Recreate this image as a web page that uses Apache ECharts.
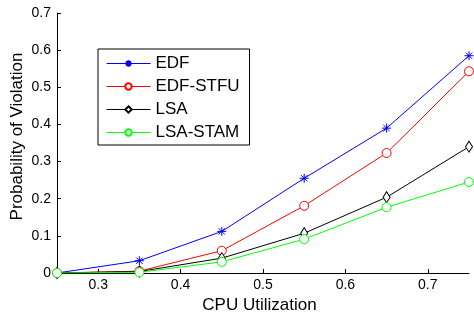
<!DOCTYPE html>
<html><head><meta charset="utf-8">
<script src="https://cdn.jsdelivr.net/npm/echarts@6/dist/echarts.min.js"></script>
<style>html,body{margin:0;padding:0;background:#fff}#c{width:474px;height:320px}</style>
</head><body><div id="c"></div>
<script>
const xValues = [0.25, 0.35, 0.45, 0.55, 0.65, 0.75];
const edf = [0, 0.033, 0.112, 0.255, 0.39, 0.585];
const edfStfu = [0, 0.005, 0.06, 0.181, 0.323, 0.543];
const lsa = [0, 0.004, 0.04, 0.107, 0.204, 0.34];
const lsaStam = [0, 0.002, 0.03, 0.091, 0.177, 0.245];
const xTicks = [0.3, 0.4, 0.5, 0.6, 0.7];
const seriesNames = ['EDF', 'EDF-STFU', 'LSA', 'LSA-STAM'];

const font = 'Liberation Sans, Arial, sans-serif';
const asterisk = 'path://M0,-10L0,10M-10,0L10,0M-7,-7L7,7M-7,7L7,-7';
function mk(name, vals, color, symbol, size) {
  return {
    name: name, type: 'line', data: xValues.map((x, i) => [x, vals[i]]),
    symbol: symbol, symbolSize: size, showAllSymbol: true,
    lineStyle: {color: color, width: 1},
    itemStyle: {color: symbol === asterisk ? color : '#fff', borderColor: color, borderWidth: 1},
    emphasis: {disabled: true}, animation: false
  };
}
const chart = echarts.init(document.getElementById('c'));
chart.setOption({
  animation: false,
  grid: {left: 57, right: 5, top: 13, bottom: 47, containLabel: false, outerBoundsMode: 'none'},
  legend: {
    orient: 'vertical', left: 98, top: 49, borderColor: '#000', borderWidth: 1,
    padding: [6, 10, 4, 8], itemGap: 6, itemWidth: 44, itemHeight: 8,
    textStyle: {fontFamily: font, fontSize: 17, color: '#000'},
    lineStyle: {width: 1},
    data: seriesNames, backgroundColor: '#fff'
  },
  xAxis: {
    type: 'value', min: 0.25, max: 0.75,
    name: 'CPU Utilization', nameLocation: 'middle', nameGap: 24, nameMoveOverlap: false,
    nameTextStyle: {fontFamily: font, fontSize: 17, color: '#000', padding: [0, 7, 0, 0]},
    axisLine: {lineStyle: {color: '#000', width: 1}},
    axisTick: {inside: true, length: 4, customValues: xTicks, lineStyle: {color: '#000'}},
    axisLabel: {customValues: xTicks, fontFamily: font, fontSize: 14, color: '#000', margin: 5},
    splitLine: {show: false}
  },
  yAxis: {
    type: 'value', min: 0, max: 0.7, interval: 0.1,
    name: 'Probability of Violation', nameLocation: 'middle', nameGap: 31, nameMoveOverlap: false,
    nameTextStyle: {fontFamily: font, fontSize: 17, color: '#000', padding: [0, 0, 0, 13]},
    axisLine: {show: true, lineStyle: {color: '#000', width: 1}},
    axisTick: {show: true, inside: true, length: 4, lineStyle: {color: '#000'}},
    axisLabel: {fontFamily: font, fontSize: 14, color: '#000', margin: 6},
    splitLine: {show: false}
  },
  series: [
    mk('EDF', edf, '#0000ff', asterisk, 9),
    mk('EDF-STFU', edfStfu, '#ff0000', 'circle', 9),
    mk('LSA', lsa, '#000000', 'diamond', [7, 11]),
    mk('LSA-STAM', lsaStam, '#00ff00', 'circle', 9)
  ]
});
</script></body></html>
